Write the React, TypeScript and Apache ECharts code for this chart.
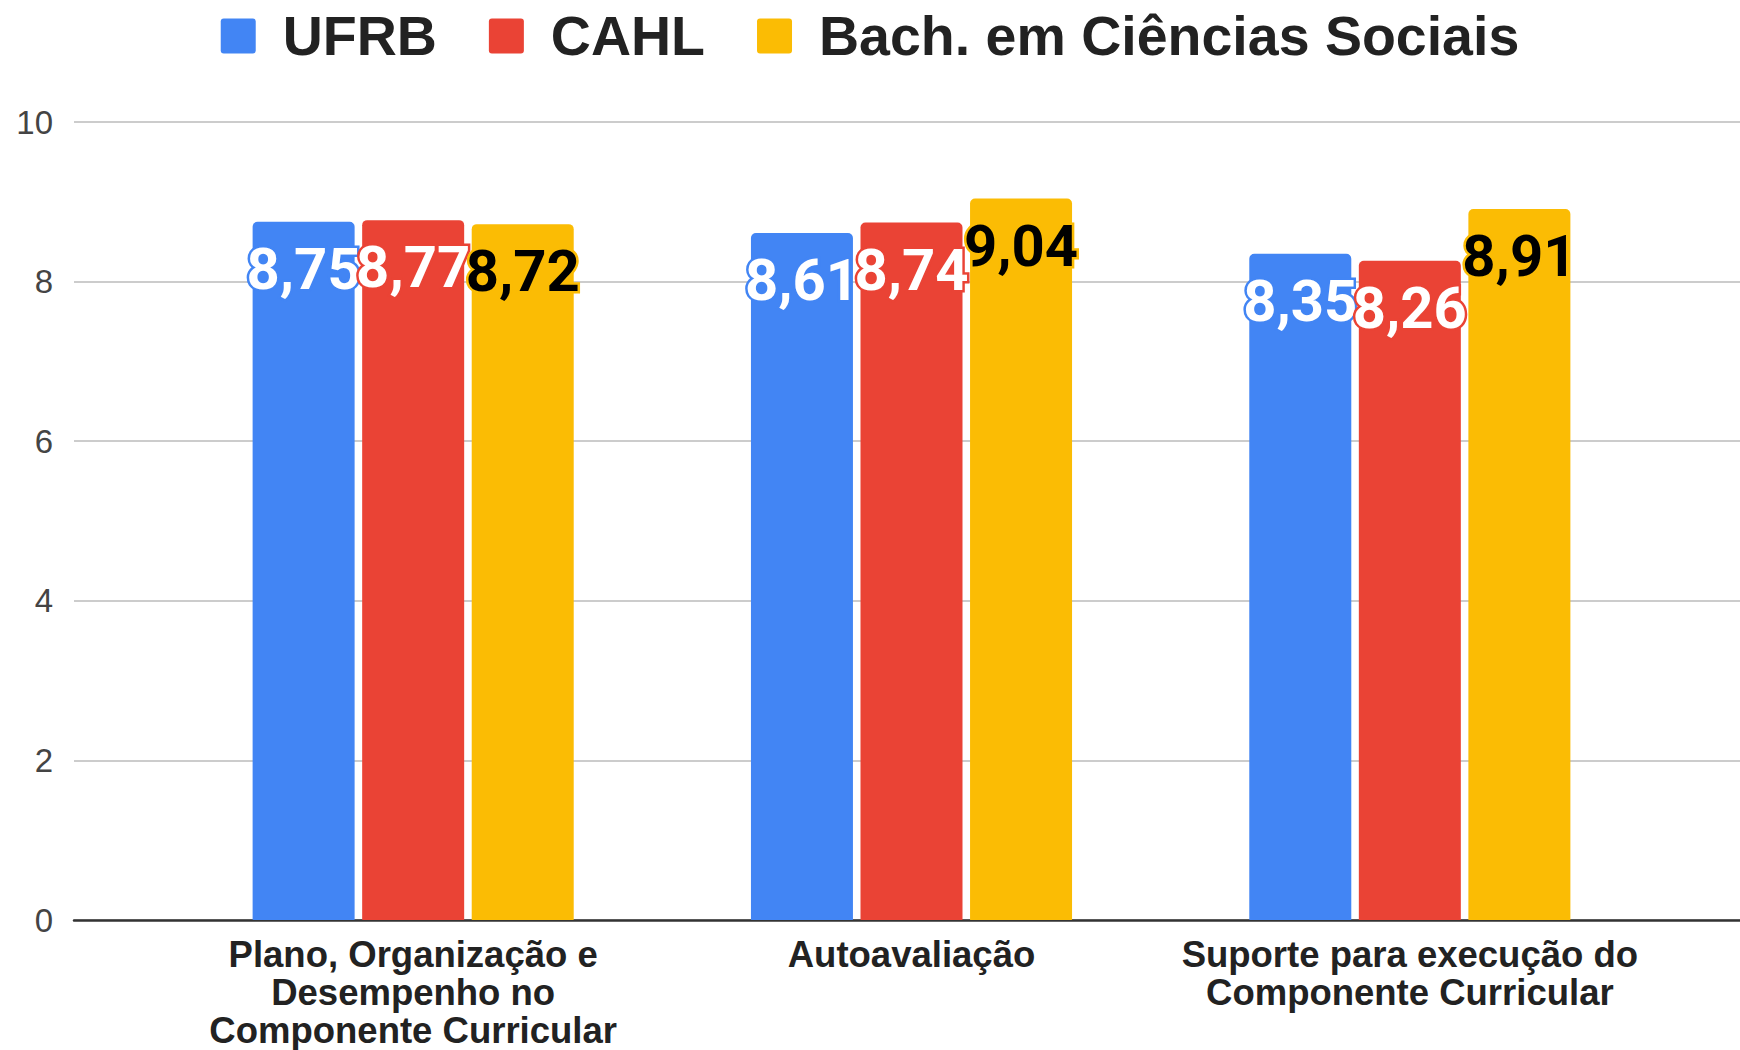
import React, { useEffect, useRef } from "react";
import * as echarts from "echarts";

const categories = [
  "Plano, Organização e\nDesempenho no\nComponente Curricular",
  "Autoavaliação",
  "Suporte para execução do\nComponente Curricular",
];
const seriesNames = ["UFRB", "CAHL", "Bach. em Ciências Sociais"];
const ufrbValues = [8.75, 8.61, 8.35];
const cahlValues = [8.77, 8.74, 8.26];
const bachValues = [8.72, 9.04, 8.91];
const yMin = 0;
const yMax = 10;
const yInterval = 2;

const colors = ["#4285F4", "#EA4335", "#FBBC04"];
const labelColors = ["#ffffff", "#ffffff", "#000000"];
const legendIcon =
  "path://M3,0H32A3,3 0 0 1 35,3V32A3,3 0 0 1 32,35H3A3,3 0 0 1 0,32V3A3,3 0 0 1 3,0Z";

export default function App() {
  const ref = useRef<HTMLDivElement>(null);

  useEffect(() => {
    if (!ref.current) return;
    const chart = echarts.init(ref.current, null, { renderer: "svg" });
    const allValues = [ufrbValues, cahlValues, bachValues];
    const fmt = (p: any) => Number(p.value).toFixed(2).replace(".", ",");

    const option: any = {
      animation: false,
      backgroundColor: "#ffffff",
      legend: {
        top: 8,
        left: "center",
        padding: 0,
        itemWidth: 35,
        itemHeight: 35,
        itemGap: 52,
        icon: legendIcon,
        data: seriesNames,
        textStyle: {
          fontFamily: "Liberation Sans, Arial, sans-serif",
          fontWeight: "bold",
          fontSize: 55.5,
          color: "#222222",
          padding: [0, 0, 0, 22],
        },
      },
      grid: [
        { left: 74, right: 0, top: 122, bottom: 130, containLabel: false },
        { left: 164, right: 81, top: 122, bottom: 130, containLabel: false },
      ],
      xAxis: [
        {
          type: "value",
          gridIndex: 0,
          min: 0,
          max: 1,
          axisLine: { show: true, onZero: false, lineStyle: { color: "#333333", width: 2.5 } },
          axisTick: { show: false },
          axisLabel: { show: false },
          splitLine: { show: false },
        },
        {
          type: "category",
          gridIndex: 1,
          data: categories,
          axisLine: { show: false },
          axisTick: { show: false },
          splitLine: { show: false },
          axisLabel: {
            interval: 0,
            margin: 15,
            fontFamily: "Liberation Sans, Arial, sans-serif",
            fontWeight: "bold",
            fontSize: 36.5,
            lineHeight: 38,
            color: "#222222",
            align: "center",
          },
        },
      ],
      yAxis: [
        {
          type: "value",
          gridIndex: 0,
          min: yMin,
          max: yMax,
          interval: yInterval,
          axisLine: { show: false },
          axisTick: { show: false },
          axisLabel: {
            margin: 21,
            fontFamily: "Liberation Sans, Arial, sans-serif",
            fontSize: 33,
            color: "#444444",
          },
          splitLine: { show: true, lineStyle: { color: "#cccccc", width: 2 } },
        },
        {
          type: "value",
          gridIndex: 1,
          min: yMin,
          max: yMax,
          interval: yInterval,
          show: false,
          splitLine: { show: false },
        },
      ],
      series: seriesNames.map((name, i) => ({
        type: "bar",
        name,
        xAxisIndex: 1,
        yAxisIndex: 1,
        data: allValues[i],
        barWidth: 102,
        barGap: "7.4%",
        itemStyle: { color: colors[i], borderRadius: [5, 5, 0, 0] },
        label: {
          show: true,
          position: ["50%", 47],
          align: "center",
          verticalAlign: "middle",
          formatter: fmt,
          fontFamily: "Roboto, sans-serif",
          fontWeight: "bold",
          fontSize: 58,
          color: labelColors[i],
          textBorderColor: colors[i],
          textBorderWidth: 5,
        },
      })),
    };

    chart.setOption(option);
    return () => chart.dispose();
  }, []);

  return (
    <div
      ref={ref}
      style={{ position: "absolute", left: 0, top: 0, width: 1740, height: 1050 }}
    />
  );
}
